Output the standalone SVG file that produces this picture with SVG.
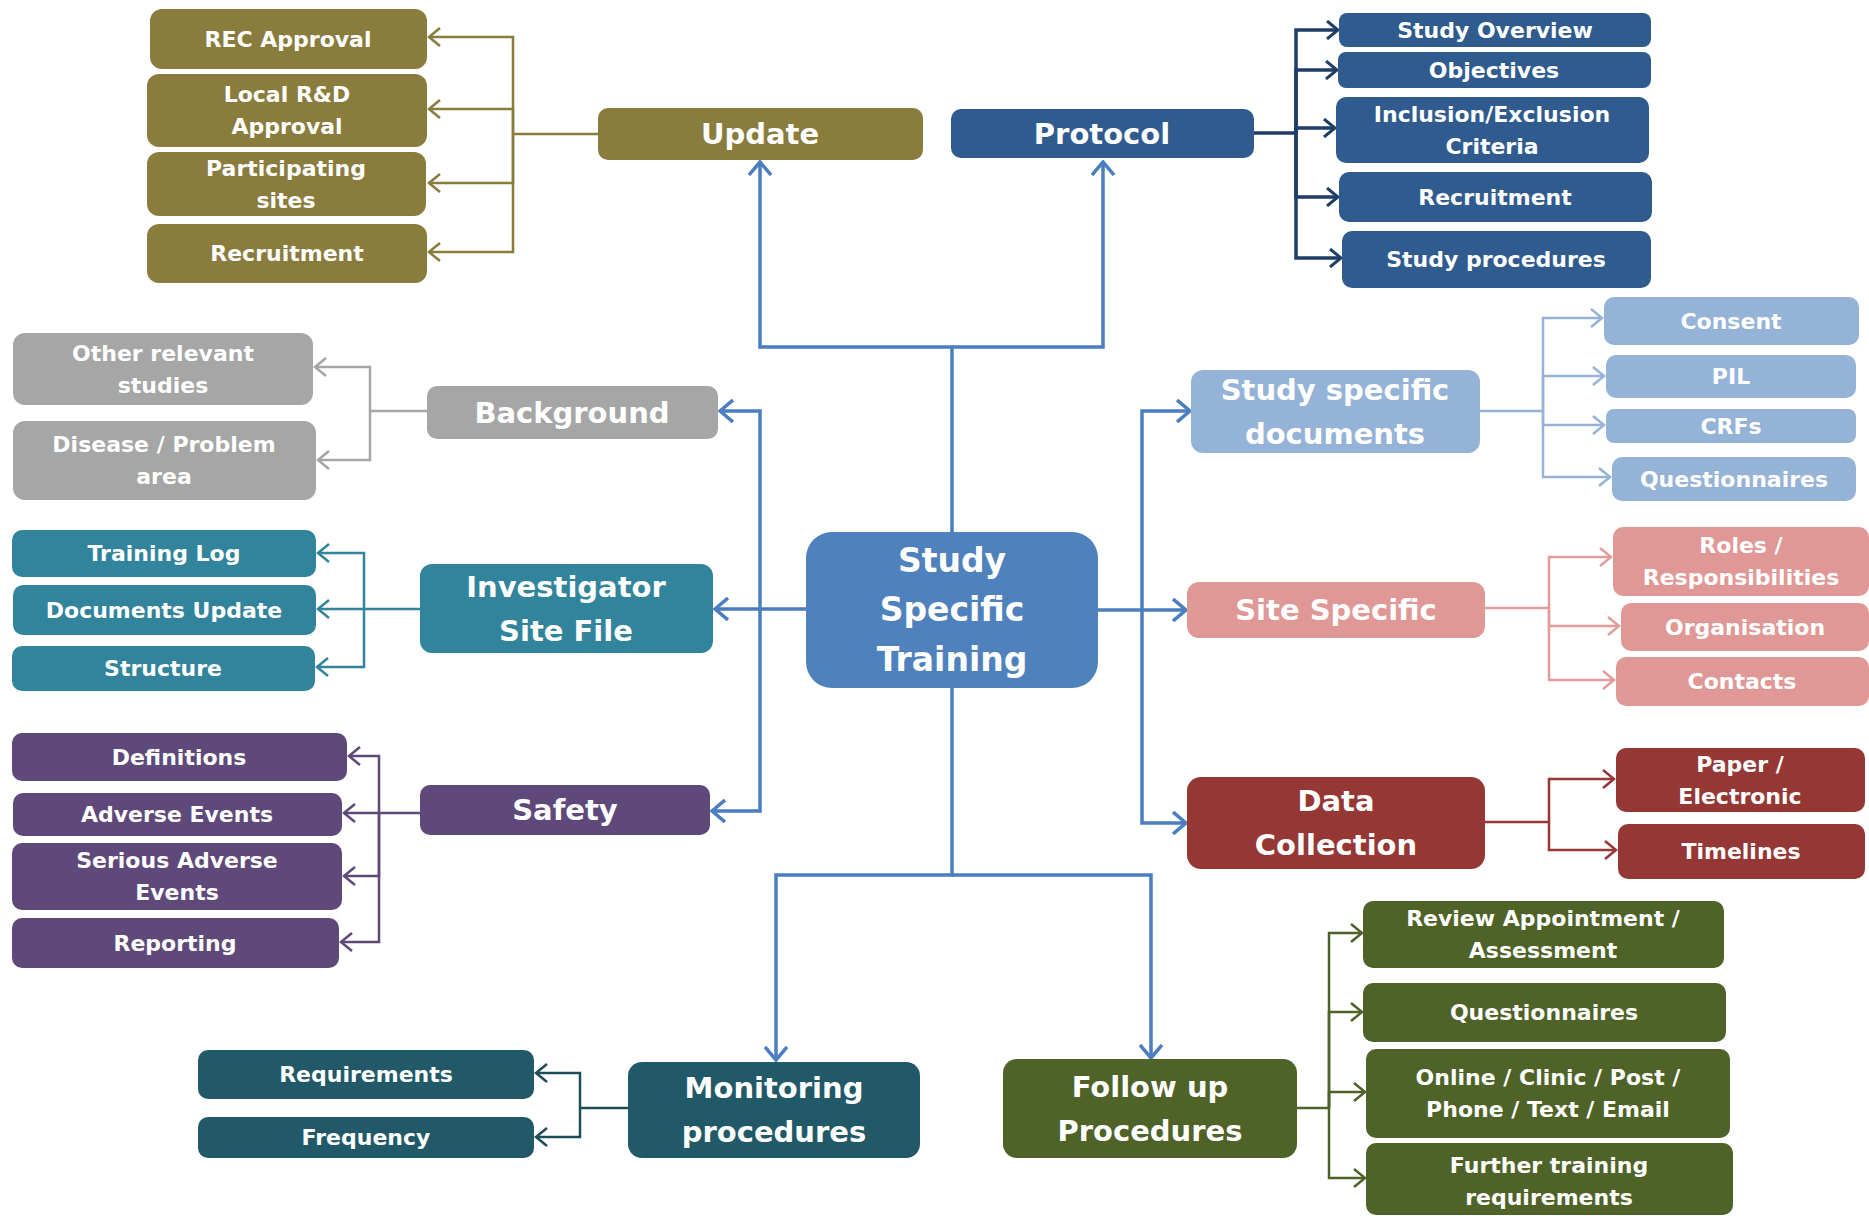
<svg xmlns="http://www.w3.org/2000/svg" width="1869" height="1216" viewBox="0 0 1869 1216">
<style>
text{font-family:"DejaVu Sans","Liberation Sans",sans-serif;font-weight:bold;fill:#fff;text-anchor:middle}
.lf{font-size:22px}
.md{font-size:29px}
.ct{font-size:33px}
.c{fill:none;stroke-linejoin:miter}
.upd{fill:#8a7c3d}.pro{fill:#2f5b8f}.bg{fill:#a6a6a6}.inv{fill:#31849b}.saf{fill:#5f497a}
.mon{fill:#215968}.fol{fill:#4f6228}.ssd{fill:#95b3d7}.site{fill:#e09896}.dat{fill:#953735}.ctr{fill:#4f81bd}
</style>
<defs>
<marker id="aB" viewBox="0 0 16 24" refX="14" refY="12" markerWidth="16" markerHeight="24" markerUnits="userSpaceOnUse" orient="auto"><path d="M1,1 L14,12 L1,23" fill="none" stroke="#4a7ebf" stroke-width="3.5"/></marker>
<marker id="aU" viewBox="0 0 14 20" refX="12" refY="10" markerWidth="14" markerHeight="20" markerUnits="userSpaceOnUse" orient="auto"><path d="M1,1 L12,10 L1,19" fill="none" stroke="#8a7c3d" stroke-width="2.5"/></marker>
<marker id="aP" viewBox="0 0 14 20" refX="12" refY="10" markerWidth="14" markerHeight="20" markerUnits="userSpaceOnUse" orient="auto"><path d="M1,1 L12,10 L1,19" fill="none" stroke="#1f3d66" stroke-width="3"/></marker>
<marker id="aG" viewBox="0 0 14 20" refX="12" refY="10" markerWidth="14" markerHeight="20" markerUnits="userSpaceOnUse" orient="auto"><path d="M1,1 L12,10 L1,19" fill="none" stroke="#a6a6a6" stroke-width="2.5"/></marker>
<marker id="aI" viewBox="0 0 14 20" refX="12" refY="10" markerWidth="14" markerHeight="20" markerUnits="userSpaceOnUse" orient="auto"><path d="M1,1 L12,10 L1,19" fill="none" stroke="#31849b" stroke-width="2.5"/></marker>
<marker id="aS" viewBox="0 0 14 20" refX="12" refY="10" markerWidth="14" markerHeight="20" markerUnits="userSpaceOnUse" orient="auto"><path d="M1,1 L12,10 L1,19" fill="none" stroke="#5f497a" stroke-width="2.5"/></marker>
<marker id="aM" viewBox="0 0 14 20" refX="12" refY="10" markerWidth="14" markerHeight="20" markerUnits="userSpaceOnUse" orient="auto"><path d="M1,1 L12,10 L1,19" fill="none" stroke="#1c4e5a" stroke-width="2.5"/></marker>
<marker id="aF" viewBox="0 0 14 20" refX="12" refY="10" markerWidth="14" markerHeight="20" markerUnits="userSpaceOnUse" orient="auto"><path d="M1,1 L12,10 L1,19" fill="none" stroke="#4f6228" stroke-width="2.5"/></marker>
<marker id="aD" viewBox="0 0 14 20" refX="12" refY="10" markerWidth="14" markerHeight="20" markerUnits="userSpaceOnUse" orient="auto"><path d="M1,1 L12,10 L1,19" fill="none" stroke="#95b3d7" stroke-width="2.5"/></marker>
<marker id="aK" viewBox="0 0 14 20" refX="12" refY="10" markerWidth="14" markerHeight="20" markerUnits="userSpaceOnUse" orient="auto"><path d="M1,1 L12,10 L1,19" fill="none" stroke="#e39c9a" stroke-width="2.5"/></marker>
<marker id="aR" viewBox="0 0 14 20" refX="12" refY="10" markerWidth="14" markerHeight="20" markerUnits="userSpaceOnUse" orient="auto"><path d="M1,1 L12,10 L1,19" fill="none" stroke="#953735" stroke-width="2.5"/></marker>
</defs>
<rect width="1869" height="1216" fill="#fff"/>

<g id="connectors" class="c">
<g stroke="#4a7ebf" stroke-width="3.5" fill="none">
<path d="M952,532 V347 H760 V162" marker-end="url(#aB)"/>
<path d="M952,347 H1103 V162" marker-end="url(#aB)"/>
<path d="M806,609 H715" marker-end="url(#aB)"/>
<path d="M760,609 V411 H720" marker-end="url(#aB)"/>
<path d="M760,609 V811 H712" marker-end="url(#aB)"/>
<path d="M1098,610 H1186" marker-end="url(#aB)"/>
<path d="M1142,610 V411 H1190" marker-end="url(#aB)"/>
<path d="M1142,610 V823 H1186" marker-end="url(#aB)"/>
<path d="M952,688 V875 H776 V1060" marker-end="url(#aB)"/>
<path d="M952,875 H1151 V1058" marker-end="url(#aB)"/>
</g>
<g stroke="#8a7c3d" stroke-width="2.5" fill="none">
<path d="M598,134 H513"/>
<path d="M513,134 V37 H429" marker-end="url(#aU)"/>
<path d="M513,134 V109 H429" marker-end="url(#aU)"/>
<path d="M513,134 V183 H429" marker-end="url(#aU)"/>
<path d="M513,134 V252 H429" marker-end="url(#aU)"/>
</g>
<g stroke="#1f3d66" stroke-width="3.5" fill="none">
<path d="M1254,133 H1296"/>
<path d="M1296,133 V30 H1338" marker-end="url(#aP)"/>
<path d="M1296,133 V70 H1337" marker-end="url(#aP)"/>
<path d="M1296,133 V128 H1335" marker-end="url(#aP)"/>
<path d="M1296,133 V197 H1338" marker-end="url(#aP)"/>
<path d="M1296,133 V258 H1341" marker-end="url(#aP)"/>
</g>
<g stroke="#a6a6a6" stroke-width="2.5" fill="none">
<path d="M427,411 H370"/>
<path d="M370,411 V367 H315" marker-end="url(#aG)"/>
<path d="M370,411 V460 H318" marker-end="url(#aG)"/>
</g>
<g stroke="#31849b" stroke-width="2.5" fill="none">
<path d="M420,609 H364"/>
<path d="M364,609 V553 H318" marker-end="url(#aI)"/>
<path d="M364,609 H318" marker-end="url(#aI)"/>
<path d="M364,609 V667 H317" marker-end="url(#aI)"/>
</g>
<g stroke="#5f497a" stroke-width="2.5" fill="none">
<path d="M420,813 H379"/>
<path d="M379,813 V756 H349" marker-end="url(#aS)"/>
<path d="M379,813 H344" marker-end="url(#aS)"/>
<path d="M379,813 V876 H344" marker-end="url(#aS)"/>
<path d="M379,813 V942 H341" marker-end="url(#aS)"/>
</g>
<g stroke="#1c4e5a" stroke-width="2.5" fill="none">
<path d="M628,1108 H580"/>
<path d="M580,1108 V1073 H536" marker-end="url(#aM)"/>
<path d="M580,1108 V1137 H536" marker-end="url(#aM)"/>
</g>
<g stroke="#4f6228" stroke-width="2.5" fill="none">
<path d="M1297,1108 H1329"/>
<path d="M1329,1108 V933 H1362" marker-end="url(#aF)"/>
<path d="M1329,1108 V1012 H1362" marker-end="url(#aF)"/>
<path d="M1329,1108 V1092 H1365" marker-end="url(#aF)"/>
<path d="M1329,1108 V1178 H1365" marker-end="url(#aF)"/>
</g>
<g stroke="#95b3d7" stroke-width="2.5" fill="none">
<path d="M1480,411 H1543"/>
<path d="M1543,411 V318 H1602" marker-end="url(#aD)"/>
<path d="M1543,411 V376 H1604" marker-end="url(#aD)"/>
<path d="M1543,411 V425 H1604" marker-end="url(#aD)"/>
<path d="M1543,411 V477 H1610" marker-end="url(#aD)"/>
</g>
<g stroke="#e39c9a" stroke-width="2.5" fill="none">
<path d="M1485,608 H1549"/>
<path d="M1549,608 V557 H1611" marker-end="url(#aK)"/>
<path d="M1549,608 V626 H1619" marker-end="url(#aK)"/>
<path d="M1549,608 V680 H1614" marker-end="url(#aK)"/>
</g>
<g stroke="#953735" stroke-width="2.5" fill="none">
<path d="M1485,822 H1549"/>
<path d="M1549,822 V779 H1614" marker-end="url(#aR)"/>
<path d="M1549,822 V850 H1616" marker-end="url(#aR)"/>
</g>
</g>

<g id="center"><rect class="ctr" x="806" y="532" width="292" height="156" rx="26"/><text class="ct" x="952" y="572">Study</text><text class="ct" x="952" y="621">Specific</text><text class="ct" x="952" y="671">Training</text></g>

<g id="update"><rect class="upd" x="598" y="108" width="325" height="52" rx="10"/><text class="md" x="760" y="144">Update</text></g>
<g id="rec-approval"><rect class="upd" x="150" y="9" width="277" height="60" rx="12"/><text class="lf" x="288" y="47">REC Approval</text></g>
<g id="local-rd"><rect class="upd" x="147" y="74" width="280" height="73" rx="12"/><text class="lf" x="287" y="102">Local R&amp;D</text><text class="lf" x="287" y="134">Approval</text></g>
<g id="participating"><rect class="upd" x="147" y="152" width="279" height="64" rx="12"/><text class="lf" x="286" y="176">Participating</text><text class="lf" x="286" y="208">sites</text></g>
<g id="recruitment-update"><rect class="upd" x="147" y="224" width="280" height="59" rx="12"/><text class="lf" x="287" y="261">Recruitment</text></g>

<g id="protocol"><rect class="pro" x="951" y="109" width="303" height="49" rx="10"/><text class="md" x="1102" y="144">Protocol</text></g>
<g id="study-overview"><rect class="pro" x="1339" y="13" width="312" height="34" rx="8"/><text class="lf" x="1495" y="38">Study Overview</text></g>
<g id="objectives"><rect class="pro" x="1338" y="52" width="313" height="36" rx="8"/><text class="lf" x="1494" y="78">Objectives</text></g>
<g id="inclusion"><rect class="pro" x="1336" y="97" width="313" height="66" rx="10"/><text class="lf" x="1492" y="122">Inclusion/Exclusion</text><text class="lf" x="1492" y="154">Criteria</text></g>
<g id="recruitment-protocol"><rect class="pro" x="1339" y="172" width="313" height="50" rx="10"/><text class="lf" x="1495" y="205">Recruitment</text></g>
<g id="study-procedures"><rect class="pro" x="1342" y="231" width="309" height="57" rx="10"/><text class="lf" x="1496" y="267">Study procedures</text></g>

<g id="background"><rect class="bg" x="427" y="386" width="291" height="53" rx="10"/><text class="md" x="572" y="423">Background</text></g>
<g id="other-studies"><rect class="bg" x="13" y="333" width="300" height="72" rx="12"/><text class="lf" x="163" y="361">Other relevant</text><text class="lf" x="163" y="393">studies</text></g>
<g id="disease"><rect class="bg" x="13" y="421" width="303" height="79" rx="12"/><text class="lf" x="164" y="452">Disease / Problem</text><text class="lf" x="164" y="484">area</text></g>

<g id="investigator"><rect class="inv" x="420" y="564" width="293" height="89" rx="12"/><text class="md" x="566" y="597">Investigator</text><text class="md" x="566" y="641">Site File</text></g>
<g id="training-log"><rect class="inv" x="12" y="530" width="304" height="47" rx="10"/><text class="lf" x="164" y="561">Training Log</text></g>
<g id="documents-update"><rect class="inv" x="13" y="585" width="303" height="50" rx="10"/><text class="lf" x="164" y="618">Documents Update</text></g>
<g id="structure"><rect class="inv" x="12" y="646" width="303" height="45" rx="10"/><text class="lf" x="163" y="676">Structure</text></g>

<g id="safety"><rect class="saf" x="420" y="785" width="290" height="50" rx="10"/><text class="md" x="565" y="820">Safety</text></g>
<g id="definitions"><rect class="saf" x="12" y="733" width="335" height="48" rx="10"/><text class="lf" x="179" y="765">Definitions</text></g>
<g id="adverse-events"><rect class="saf" x="13" y="793" width="329" height="43" rx="10"/><text class="lf" x="177" y="822">Adverse Events</text></g>
<g id="serious-adverse"><rect class="saf" x="12" y="843" width="330" height="67" rx="10"/><text class="lf" x="177" y="868">Serious Adverse</text><text class="lf" x="177" y="900">Events</text></g>
<g id="reporting"><rect class="saf" x="12" y="918" width="327" height="50" rx="10"/><text class="lf" x="175" y="951">Reporting</text></g>

<g id="monitoring"><rect class="mon" x="628" y="1062" width="292" height="96" rx="14"/><text class="md" x="774" y="1098">Monitoring</text><text class="md" x="774" y="1142">procedures</text></g>
<g id="requirements"><rect class="mon" x="198" y="1050" width="336" height="49" rx="10"/><text class="lf" x="366" y="1082">Requirements</text></g>
<g id="frequency"><rect class="mon" x="198" y="1117" width="336" height="41" rx="10"/><text class="lf" x="366" y="1145">Frequency</text></g>

<g id="follow-up"><rect class="fol" x="1003" y="1059" width="294" height="99" rx="14"/><text class="md" x="1150" y="1097">Follow up</text><text class="md" x="1150" y="1141">Procedures</text></g>
<g id="review"><rect class="fol" x="1363" y="901" width="361" height="67" rx="10"/><text class="lf" x="1543" y="926">Review Appointment /</text><text class="lf" x="1543" y="958">Assessment</text></g>
<g id="questionnaires-follow"><rect class="fol" x="1363" y="983" width="363" height="59" rx="10"/><text class="lf" x="1544" y="1020">Questionnaires</text></g>
<g id="online"><rect class="fol" x="1366" y="1049" width="364" height="89" rx="10"/><text class="lf" x="1548" y="1085">Online / Clinic / Post /</text><text class="lf" x="1548" y="1117">Phone / Text / Email</text></g>
<g id="further-training"><rect class="fol" x="1366" y="1143" width="367" height="72" rx="10"/><text class="lf" x="1549" y="1173">Further training</text><text class="lf" x="1549" y="1205">requirements</text></g>

<g id="study-specific-documents"><rect class="ssd" x="1191" y="370" width="289" height="83" rx="12"/><text class="md" x="1335" y="400">Study specific</text><text class="md" x="1335" y="444">documents</text></g>
<g id="consent"><rect class="ssd" x="1604" y="297" width="255" height="48" rx="10"/><text class="lf" x="1731" y="329">Consent</text></g>
<g id="pil"><rect class="ssd" x="1606" y="355" width="250" height="43" rx="10"/><text class="lf" x="1731" y="384">PIL</text></g>
<g id="crfs"><rect class="ssd" x="1606" y="409" width="250" height="34" rx="8"/><text class="lf" x="1731" y="434">CRFs</text></g>
<g id="questionnaires-docs"><rect class="ssd" x="1612" y="457" width="244" height="44" rx="10"/><text class="lf" x="1734" y="487">Questionnaires</text></g>

<g id="site-specific"><rect class="site" x="1187" y="582" width="298" height="56" rx="12"/><text class="md" x="1336" y="620">Site Specific</text></g>
<g id="roles"><rect class="site" x="1613" y="527" width="256" height="69" rx="10"/><text class="lf" x="1741" y="553">Roles /</text><text class="lf" x="1741" y="585">Responsibilities</text></g>
<g id="organisation"><rect class="site" x="1621" y="603" width="248" height="48" rx="10"/><text class="lf" x="1745" y="635">Organisation</text></g>
<g id="contacts"><rect class="site" x="1616" y="657" width="253" height="49" rx="10"/><text class="lf" x="1742" y="689">Contacts</text></g>

<g id="data-collection"><rect class="dat" x="1187" y="777" width="298" height="92" rx="14"/><text class="md" x="1336" y="811">Data</text><text class="md" x="1336" y="855">Collection</text></g>
<g id="paper-electronic"><rect class="dat" x="1616" y="748" width="249" height="64" rx="10"/><text class="lf" x="1740" y="772">Paper /</text><text class="lf" x="1740" y="804">Electronic</text></g>
<g id="timelines"><rect class="dat" x="1618" y="824" width="247" height="55" rx="10"/><text class="lf" x="1741" y="859">Timelines</text></g>
</svg>
